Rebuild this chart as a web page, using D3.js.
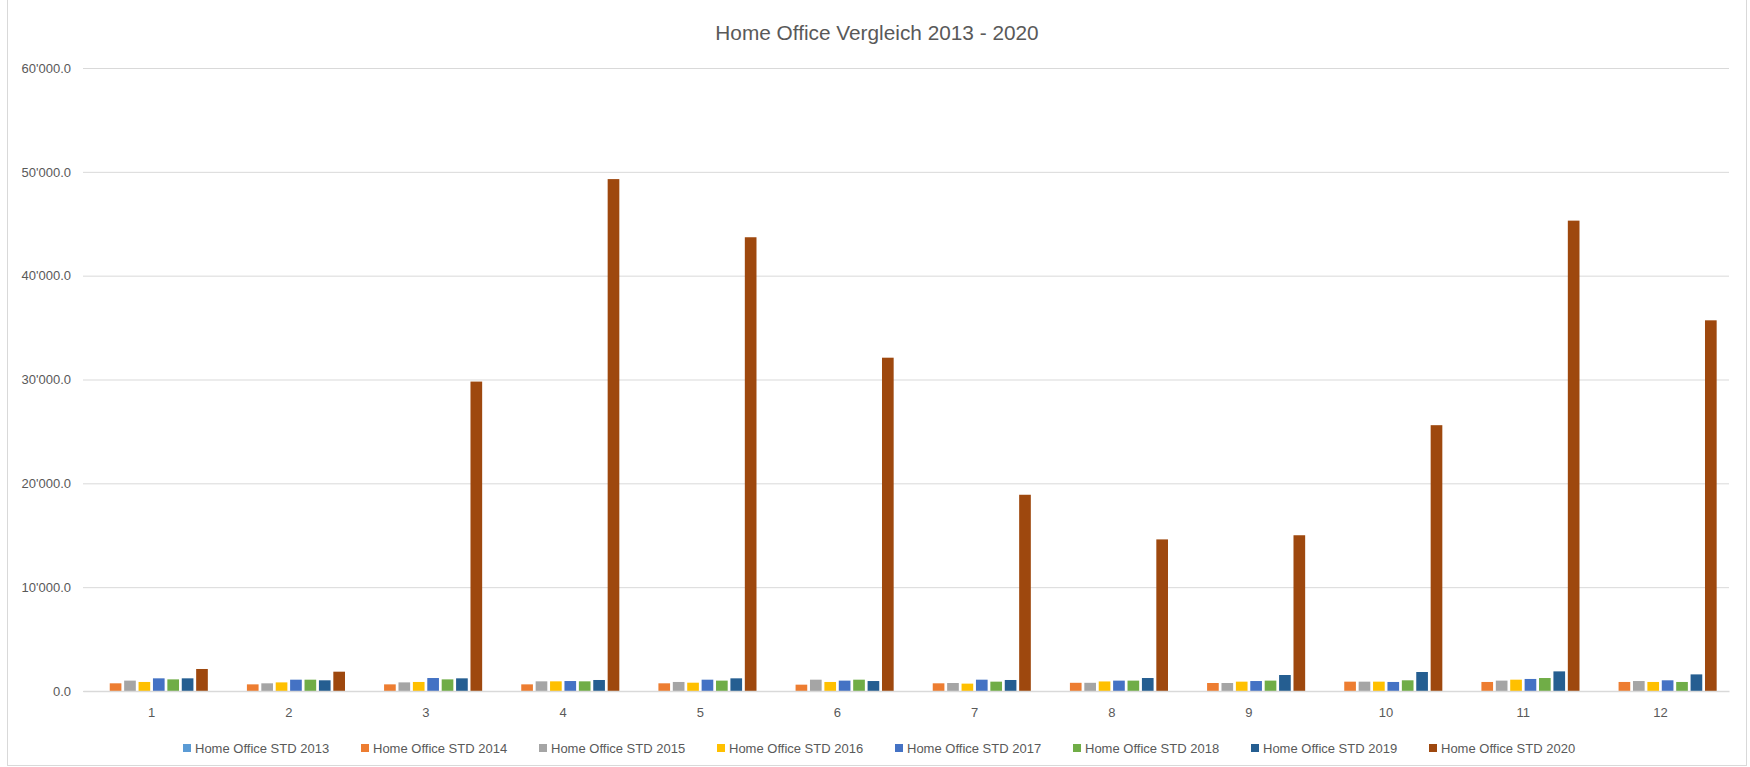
<!DOCTYPE html>
<html>
<head>
<meta charset="UTF-8">
<title>Home Office Vergleich 2013 - 2020</title>
<script src="https://cdn.jsdelivr.net/npm/d3@7"></script>
<style>
* { margin: 0; padding: 0; }
body { background: #fff; }
#chart { display: block; }
</style>
</head>
<body>
<svg id="chart"></svg>
<script>
// Werte (Stunden pro Monat)
const months = ["1", "2", "3", "4", "5", "6", "7", "8", "9", "10", "11", "12"];
const seriesNames = ["Home Office STD 2013", "Home Office STD 2014", "Home Office STD 2015",
  "Home Office STD 2016", "Home Office STD 2017", "Home Office STD 2018",
  "Home Office STD 2019", "Home Office STD 2020"];
const colors = ["#5B9BD5", "#ED7D31", "#A5A5A5", "#FFC000", "#4472C4", "#70AD47", "#255E91", "#9E480E"];

const std2013 = [0, 0, 0, 0, 0, 0, 0, 0, 0, 0, 0, 0];
const std2014 = [740, 640, 640, 640, 740, 610, 740, 790, 770, 900, 870, 870];
const std2015 = [1000, 740, 830, 930, 870, 1090, 770, 790, 770, 900, 1000, 960];
const std2016 = [870, 830, 870, 930, 800, 870, 710, 920, 900, 900, 1090, 870];
const std2017 = [1220, 1090, 1250, 960, 1090, 1000, 1090, 1000, 960, 870, 1160, 1030];
const std2018 = [1120, 1090, 1120, 930, 1000, 1090, 900, 1000, 1000, 1030, 1250, 870];
const std2019 = [1220, 1030, 1220, 1060, 1220, 960, 1060, 1250, 1540, 1830, 1890, 1600];
const std2020 = [2120, 1860, 29800, 49300, 43700, 32100, 18900, 14600, 15000, 25600, 45300, 35700];

const yTicks = [0, 10000, 20000, 30000, 40000, 50000, 60000];

const allSeries = [std2013, std2014, std2015, std2016, std2017, std2018, std2019, std2020];

const width = 1750, height = 767;
const svg = d3.select("#chart").attr("width", width).attr("height", height);

// Rahmen
svg.append("rect")
  .attr("x", 7.5).attr("y", -2)
  .attr("width", 1739).attr("height", 767.5)
  .attr("fill", "none").attr("stroke", "#d9d9d9");

const fmt = d3.formatLocale({ decimal: ".", thousands: "'", grouping: [3], currency: ["", ""] }).format(",.1f");

const x0 = d3.scaleBand().domain(months).range([83, 1729]).paddingInner(0.16).paddingOuter(0.08);
const x1 = d3.scaleBand().domain(d3.range(seriesNames.length)).range([0, x0.bandwidth()])
  .paddingInner(0.19).paddingOuter(0.095);
const y = d3.scaleLinear().domain([0, 60000]).range([691, 68]);

// Gitterlinien + Beschriftung Y
const yAxis = svg.append("g")
  .attr("transform", "translate(83,0)")
  .call(d3.axisLeft(y).tickValues(yTicks).tickFormat(fmt).tickSize(-(1729 - 83)).tickPadding(12));
yAxis.select(".domain").remove();
yAxis.selectAll(".tick line").attr("stroke", "#d9d9d9").attr("stroke-width", 1);
yAxis.selectAll(".tick text")
  .attr("fill", "#595959")
  .style("font-family", "'Liberation Sans', Arial, sans-serif")
  .style("font-size", "13px");

// Balken
const groups = svg.append("g").selectAll("g")
  .data(months)
  .join("g")
  .attr("transform", d => `translate(${x0(d)},0)`);

groups.selectAll("rect")
  .data((m, i) => allSeries.map((s, k) => ({ k: k, v: s[i] })))
  .join("rect")
  .attr("x", d => x1(d.k))
  .attr("width", x1.bandwidth())
  .attr("y", d => y(d.v))
  .attr("height", d => y(0) - y(d.v))
  .attr("fill", d => colors[d.k]);

// X-Achse
const xAxis = svg.append("g")
  .attr("transform", `translate(0,${y(0)})`)
  .call(d3.axisBottom(x0).tickSize(0).tickPadding(17));
xAxis.select(".domain").attr("stroke", "#d9d9d9").attr("stroke-width", 1.5);
xAxis.selectAll(".tick text")
  .attr("fill", "#595959")
  .style("font-family", "'Liberation Sans', Arial, sans-serif")
  .style("font-size", "13px");

// Titel
svg.append("text")
  .attr("x", 877).attr("y", 40)
  .attr("text-anchor", "middle")
  .attr("fill", "#595959")
  .style("font-family", "'Liberation Sans', Arial, sans-serif")
  .style("font-size", "20.8px")
  .text("Home Office Vergleich 2013 - 2020");

// Legende
const legend = svg.append("g").selectAll("g")
  .data(seriesNames)
  .join("g")
  .attr("transform", (d, i) => `translate(${183 + i * 178},744)`);
legend.append("rect")
  .attr("width", 8).attr("height", 8)
  .attr("fill", (d, i) => colors[i]);
legend.append("text")
  .attr("x", 12).attr("y", 8.5)
  .attr("fill", "#595959")
  .style("font-family", "'Liberation Sans', Arial, sans-serif")
  .style("font-size", "13px")
  .text(d => d);
</script>
</body>
</html>
